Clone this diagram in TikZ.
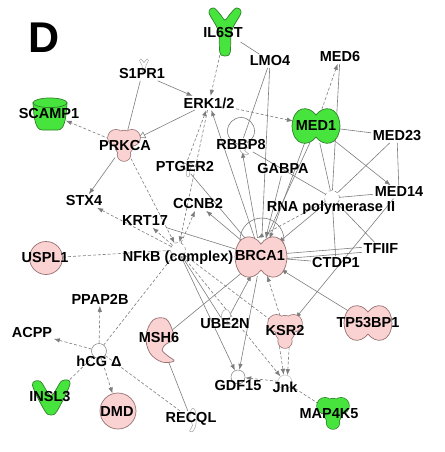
\documentclass[tikz,border=0pt]{standalone}
\usepackage{fontspec}
\setmainfont{Liberation Sans}
\usetikzlibrary{arrows.meta, shapes.geometric}
\pgfdeclarelayer{bg}
\pgfsetlayers{bg,main}
\definecolor{hitgreen}{RGB}{72,228,62}
\definecolor{hitgreenline}{RGB}{45,128,40}
\definecolor{hitpink}{RGB}{250,210,210}
\definecolor{hitpinkline}{RGB}{150,112,112}
\definecolor{linkgray}{RGB}{125,125,125}
\tikzset{>={Latex[length=6pt,width=4.5pt]}}
\tikzset{
  gene/.style={font=\fontsize{14.5}{16}\selectfont\bfseries, inner sep=1.5pt},
  hub/.style={ellipse, inner sep=0pt},
  cplx/.style={circle, draw=linkgray, line width=0.5pt, minimum size=15pt, inner sep=0pt},
  link/.style={draw=linkgray, line width=0.6pt},
  dep/.style={link, dash pattern=on 3pt off 2pt},
  upgreen/.style={fill=hitgreen, draw=hitgreenline, line width=0.7pt},
  uppink/.style={fill=hitpink, draw=hitpinkline, line width=0.7pt},
  plainshape/.style={fill=white, draw=linkgray!70, line width=0.5pt},
  pics/peanut/.style={code={
    \path[pic actions] (0,-0.62) .. controls (-0.3,-1.15) and (-0.95,-1.15) .. (-1,0)
      .. controls (-0.95,1.15) and (-0.3,1.15) .. (0,0.62)
      .. controls (0.3,1.15) and (0.95,1.15) .. (1,0)
      .. controls (0.95,-1.15) and (0.3,-1.15) .. cycle;}},
  pics/kinase/.style={code={
    \path[pic actions, line width=1.4pt] (-0.5,-0.45) circle[radius=0.5] (0.5,-0.45) circle[radius=0.5]
      (0,-0.5) circle[radius=0.4] (0,0.05) circle[radius=0.55] (0,0.6) circle[radius=0.4];
    \path[pic actions, draw=none] (-0.5,-0.45) circle[radius=0.5] (0.5,-0.45) circle[radius=0.5]
      (0,-0.5) circle[radius=0.4] (0,0.05) circle[radius=0.55] (0,0.6) circle[radius=0.4];}},
  pics/cup/.style={code={
    \path[pic actions] (-1,-0.7) .. controls (-0.95,0.3) and (-0.85,1) .. (-0.45,1) -- (0.45,1)
      .. controls (0.85,1) and (0.95,0.3) .. (1,-0.7) -- cycle;
    \path[pic actions] (0,-0.7) ellipse[x radius=1, y radius=0.3];}},
  pics/receptor/.style={code={
    \path[pic actions] plot[smooth cycle, tension=0.55] coordinates {(-1,-0.8) (-0.42,-0.05)
      (-0.32,0.85) (0,1) (0.32,0.85) (0.42,-0.05) (1,-0.8) (0.7,-1) (0.28,-0.72) (0,-0.5)
      (-0.28,-0.72) (-0.7,-1)};}},
  pics/vshape/.style={code={
    \path[pic actions] plot[smooth cycle, tension=0.55] coordinates {(-0.95,-0.75) (-0.55,-0.98)
      (0,-0.15) (0.55,-1) (0.98,-0.85) (0.32,0.75) (0,1) (-0.32,0.75)};}},
  pics/crescent/.style={code={
    \path[pic actions] plot[smooth cycle, tension=0.6] coordinates {(0.62,-0.38) (0.29,-1)
      (-0.33,-0.95) (-0.67,-0.19) (-0.48,0.62) (0.1,1.05) (0.67,1) (0.38,0.76) (0.1,0.48)
      (0.29,0.19) (0.62,0)};}}
}

\begin{document}
\begin{tikzpicture}[x=1pt, y=-1pt]
    \useasboundingbox (0,0) rectangle (444,452);
    \node[gene, font=\fontsize{43}{43}\selectfont\bfseries] (panel) at (44,38) {D};

    % self loops
    \draw[link] (241,131) circle[radius=13.5];
    \draw[link] (262,240) circle[radius=22];

    % small outlined shapes
    \pic[plainshape, xscale=4.5, yscale=7] at (144,66) {receptor};
    \pic[plainshape, xscale=4.5, yscale=7] at (188,170) {receptor};
    \pic[plainshape, scale=7] at (244,147) {crescent};
    \pic[plainshape, scale=7] at (226,317) {crescent};
    \pic[plainshape, xscale=-5, yscale=11] at (193,420) {crescent};

    % coloured shapes
    \pic[upgreen, xscale=16, yscale=24] at (225,32) {receptor};
    \pic[upgreen, xscale=17, yscale=16] at (50,114) {cup};
    \pic[uppink, scale=16] at (124,145) {kinase};
    \pic[upgreen, xscale=24, yscale=18] at (316,126) {peanut};
    \pic[uppink, xscale=26, yscale=21] at (261,257) {peanut};
    \pic[uppink, xscale=24, yscale=18] at (368,323) {peanut};
    \pic[uppink, scale=21] at (160,340) {crescent};
    \pic[uppink, scale=17] at (285,331) {kinase};
    \pic[upgreen, scale=16] at (333,413) {kinase};
    \pic[upgreen, xscale=19.5, yscale=17] at (51,398) {vshape};

    % hubs of shaped molecules
    \node[hub, minimum width=34pt, minimum height=48pt] (il6st) at (225,32) {};
    \node[hub, minimum width=34pt, minimum height=32pt] (scamp1) at (50,114) {};
    \node[hub, minimum width=32pt, minimum height=30pt] (prkca) at (124,145) {};
    \node[hub, minimum width=48pt, minimum height=34pt] (med1) at (316,126) {};
    \node[hub, minimum width=52pt, minimum height=38pt] (brca1) at (261,257) {};
    \node[hub, minimum width=48pt, minimum height=34pt] (tp53bp1) at (368,323) {};
    \node[hub, minimum width=28pt, minimum height=44pt] (msh6) at (160,340) {};
    \node[hub, minimum width=34pt, minimum height=32pt] (ksr2) at (285,331) {};
    \node[hub, minimum width=32pt, minimum height=32pt] (map4k5) at (333,413) {};
    \node[hub, minimum width=38pt, minimum height=34pt] (insl3) at (51,398) {};
    \node[circle, uppink, minimum size=33pt, inner sep=0pt] (uspl1) at (46,258) {};
    \node[circle, uppink, minimum size=36pt, inner sep=0pt] (dmd) at (118,411) {};

    % complexes and groups
    \node[cplx, dashed] (nfkb) at (178,250) {};
    \node[cplx, dashed] (rnap) at (332,198) {};
    \node[cplx] (hcg) at (99,351) {};
    \node[cplx, minimum size=14pt] (gdf15) at (238,377) {};
    \node[cplx, minimum size=14pt, draw=linkgray!50] (jnk) at (285,382) {};

    % labels
    \node[gene] (il6st-t) at (223,33) {IL6ST};
    \node[gene] (lmo4) at (270,61) {LMO4};
    \node[gene] (med6) at (340,57) {MED6};
    \node[gene] (s1pr1) at (142,74) {S1PR1};
    \node[gene] (erk) at (209,103) {ERK1/2};
    \node[gene] (scamp1-t) at (49,114) {SCAMP1};
    \node[gene] (prkca-t) at (125,146) {PRKCA};
    \node[gene] (med1-t) at (316,126) {MED1};
    \node[gene] (med23) at (397,136) {MED23};
    \node[gene] (rbbp8) at (241,145) {RBBP8};
    \node[gene] (gabpa) at (283,169) {GABPA};
    \node[gene] (ptger2) at (185,167) {PTGER2};
    \node[gene] (med14) at (399,192) {MED14};
    \node[gene] (stx4) at (84,201) {STX4};
    \node[gene] (ccnb2) at (198,204) {CCNB2};
    \node[gene] (rnap-t) at (331,208) {RNA polymerase II};
    \node[gene] (krt17) at (145,221) {KRT17};
    \node[gene] (tfiif) at (381,249) {TFIIF};
    \node[gene] (uspl1-t) at (45,258) {USPL1};
    \node[gene] (nfkb-t) at (178,258) {NFkB (complex)};
    \node[gene] (brca1-t) at (260,256) {BRCA1};
    \node[gene] (ctdp1) at (336,263) {CTDP1};
    \node[gene] (ppap2b) at (100,299) {PPAP2B};
    \node[gene] (tp53bp1-t) at (368,323) {TP53BP1};
    \node[gene] (msh6-t) at (159,338) {MSH6};
    \node[gene] (ube2n) at (225,324) {UBE2N};
    \node[gene] (ksr2-t) at (285,331) {KSR2};
    \node[gene] (acpp) at (32,333) {ACPP};
    \node[gene] (hcg-t) at (99,361) {hCG Δ};
    \node[gene] (insl3-t) at (50,397) {INSL3};
    \node[gene] (dmd-t) at (117,412) {DMD};
    \node[gene] (gdf15-t) at (238,386) {GDF15};
    \node[gene] (jnk-t) at (285,387) {Jnk};
    \node[gene] (recql) at (191,419) {RECQL};
    \node[gene] (map4k5-t) at (329,414) {MAP4K5};

    \begin{pgfonlayer}{bg}
    \draw[link] (il6st) -- (lmo4);
    \draw[dep,->] (il6st) -- (erk);
    \draw[link,->] (s1pr1) -- (erk);
    \draw[link] (s1pr1) -- (prkca);
    \draw[link,-{Triangle[open,length=7pt,width=7pt]}] (erk) -- (prkca);
    \draw[dep,->] (erk) -- (med1);
    \draw[dep,->] (prkca) -- (scamp1);
    \draw[link,->] (prkca) -- (stx4);
    \draw[dep,->] (prkca) -- (nfkb);
    \draw[dep,->] (erk) -- (nfkb);
    \draw[dep,->] (ptger2) -- (erk);
    \draw[link,->] (brca1) -- (erk);
    \draw[link] (lmo4) -- (rbbp8);
    \draw[link] (lmo4) -- (brca1);
    \draw[dep,->] (med1) -- (med6);
    \draw[link] (med6) -- (rnap);
    \draw[link] (med1) -- (med23);
    \draw[link,->] (med1) -- (med14);
    \draw[link] (med23) -- (med14);
    \draw[link] (med23) -- (rnap);
    \draw[link] (med14) -- (rnap);
    \draw[link] (med1) -- (rnap);
    \draw[link,->] (med1.235) -- (brca1.65);
    \draw[link] (med1.250) -- (brca1.75);
    \draw[link] (rbbp8) -- (rnap);
    \draw[link,->] (brca1) -- (rbbp8);
    \draw[link,->] (gabpa) -- (brca1);
    \draw[link,->] (rnap) -- (brca1);
    \draw[dep,->] (rnap) -- (brca1.100);
    \draw[link] (rnap) -- (tfiif);
    \draw[link] (rnap) -- (ctdp1);
    \draw[link] (brca1.8) -- (tfiif.175);
    \draw[link] (brca1.-3) -- (tfiif.190);
    \draw[link] (brca1) -- (ctdp1);
    \draw[link] (krt17) -- (brca1);
    \draw[link] (ptger2) -- (brca1);
    \draw[link,->] (brca1) -- (ccnb2);
    \draw[dep,->] (nfkb) -- (ccnb2);
    \draw[dep,->] (nfkb) -- (krt17);
    \draw[dep,->] (nfkb) -- (stx4);
    \draw[dep] (uspl1) -- (nfkb);
    \draw[link] (brca1) -- (msh6);
    \draw[link] (msh6) -- (recql);
    \draw[link,->] (ube2n) -- (brca1);
    \draw[link,->] (brca1) -- (gdf15);
    \draw[link] (nfkb) -- (ube2n);
    \draw[link,->] (nfkb) -- (gdf15);
    \draw[dep,->] (nfkb) -- (jnk);
    \draw[dep] (nfkb) -- (ksr2);
    \draw[dep,->] (ksr2) -- (brca1);
    \draw[link,->] (tp53bp1) -- (brca1);
    \draw[link,->] (med14) -- (ksr2);
    \draw[dep,->] (ksr2.250) -- (jnk.100);
    \draw[dep,->] (ksr2.285) -- (jnk.70);
    \draw[dep,->] (jnk) -- (gdf15);
    \draw[dep] (jnk) -- (map4k5);
    \draw[dep] (nfkb) -- (hcg);
    \draw[dep,->] (hcg) -- (ppap2b);
    \draw[dep,->] (hcg) -- (acpp);
    \draw[dep,->] (hcg) -- (insl3);
    \draw[dep,->] (hcg) -- (dmd);
    \draw[dep] (hcg) -- (recql);
    \end{pgfonlayer}
\end{tikzpicture}
\end{document}
